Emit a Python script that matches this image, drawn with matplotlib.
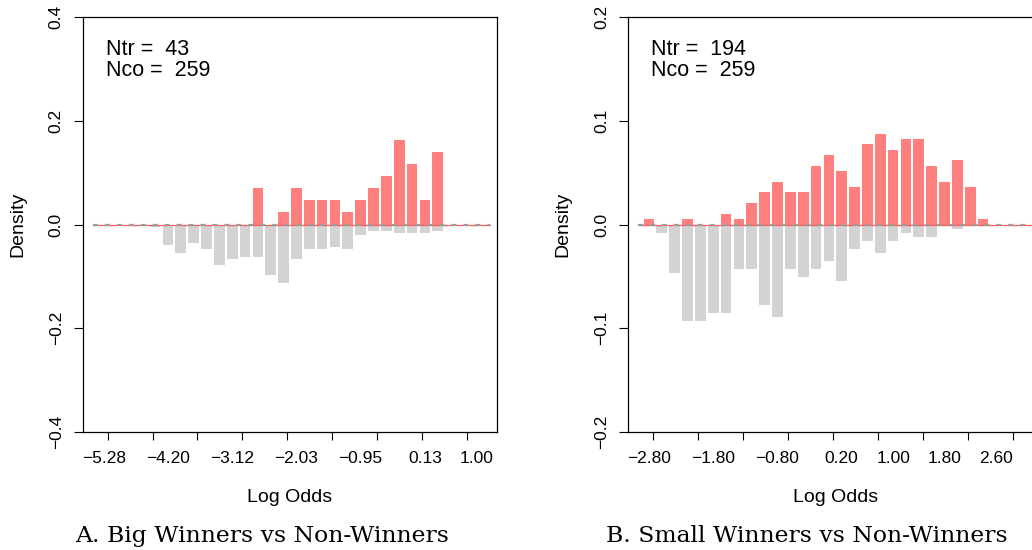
import matplotlib
matplotlib.use("Agg")  # no display

import numpy as np
import matplotlib.pyplot as plt

plt.rcParams["font.family"] = ["Liberation Sans", "DejaVu Sans"]
plt.rcParams["lines.scale_dashes"] = False

# === Data: counts per log-odds bin (30 bins) ===
a_ntr = 43
a_nco = 259
a_treated = [0, 0, 0, 0, 0, 0, 0, 0, 0, 0, 0, 0, 3, 0, 1, 3, 2, 2, 2, 1,
             2, 3, 4, 7, 5, 2, 6, 0, 0, 0]
a_control = [0, 0, 0, 0, 1, 10, 14, 9, 12, 20, 17, 16, 16, 25, 29, 17, 12, 12, 11, 12,
             5, 3, 3, 4, 4, 4, 3, 0, 0, 0]
a_xlabels = ["\u22125.28", "\u22124.20", "\u22123.12", "\u22122.03", "\u22120.95", "0.13", "1.00"]
a_label_bins = [0, 5, 10, 15, 20, 25, 29]
a_yticks = [-0.4, -0.2, 0.0, 0.2, 0.4]
a_ylabels = ["\u22120.4", "\u22120.2", "0.0", "0.2", "0.4"]
a_caption = "A. Big Winners vs Non-Winners"

b_ntr = 194
b_nco = 259
b_treated = [1, 0, 0, 1, 0, 0, 2, 1, 4, 6, 8, 6, 6, 11, 13, 10, 7, 15, 17, 14,
             16, 16, 11, 8, 12, 7, 1, 0, 0, 0]
b_control = [0, 2, 12, 24, 24, 22, 22, 11, 11, 20, 23, 11, 13, 11, 9, 14, 6, 4, 7, 4,
             2, 3, 3, 0, 1, 0, 0, 0, 0, 0]
b_xlabels = ["\u22122.80", "\u22121.80", "\u22120.80", "0.20", "1.00", "1.80", "2.60"]
b_label_bins = [0, 5, 10, 15, 19, 23, 27]
b_yticks = [-0.2, -0.1, 0.0, 0.1, 0.2]
b_ylabels = ["\u22120.2", "\u22120.1", "0.0", "0.1", "0.2"]
b_caption = "B. Small Winners vs Non-Winners"

RED = "#FF7F7F"
GRAY = "#D3D3D3"

W, H = 1032, 550
fig = plt.figure(figsize=(W / 100, H / 100), dpi=100)


def panel(left_px, treated, control, ntr, nco, xlabels, label_bins,
          yticks, ylabels, caption, cap_x):
    ax = fig.add_axes([left_px / W, 1 - 432 / H, 414 / W, 415 / H])
    bins = np.arange(len(treated))
    ax.bar(bins, -np.array(control) / nco, width=1 / 1.2, color=GRAY, linewidth=0, zorder=2)
    ax.bar(bins, np.array(treated) / ntr, width=1 / 1.2, color=RED, linewidth=0, zorder=2)
    # zero line: red under grey dashes
    ax.plot([-0.85, 30.1], [0, 0], color="#FF5A5A", lw=0.9, zorder=3)
    ax.plot([-0.85, 30.1], [0, 0], color="#9C9C9C", lw=1.6, dashes=(3.6, 5.0), zorder=4)

    ax.set_xlim(-1.61, 30.61)
    ax.set_ylim(yticks[0], yticks[-1])

    # tick marks (R places them off the bin centres), labels on bin centres
    ax.set_xticks(0.3 + 3.5 * np.arange(9))
    ax.set_xticklabels([])
    ax.set_xticks(label_bins, minor=True)
    ax.set_xticklabels(xlabels, minor=True)
    ax.tick_params(axis="x", which="major", direction="out", length=6, width=0.8)
    ax.tick_params(axis="x", which="minor", length=0, pad=13.5, labelsize=12.5)

    ax.set_yticks(yticks)
    ax.set_yticklabels(ylabels, rotation=90, va="center")
    ax.tick_params(axis="y", direction="out", length=6.3, width=0.8, pad=7.5, labelsize=12.5)

    for s in ax.spines.values():
        s.set_linewidth(0.9)

    ax.text(0.055, 0.908, "Ntr =  %d" % ntr, transform=ax.transAxes, fontsize=15.5, va="baseline")
    ax.text(0.055, 0.858, "Nco =  %d" % nco, transform=ax.transAxes, fontsize=15.5, va="baseline")

    fig.text((left_px + 207) / W, 1 - 501.7 / H, "Log Odds", ha="center", va="baseline", fontsize=14)
    fig.text((left_px - 65) / W, 1 - 224.5 / H, "Density", ha="center", va="center",
             rotation=90, fontsize=14)
    fig.text(cap_x / W, 1 - 541.7 / H, caption, ha="center", va="baseline",
             fontsize=16.9, family="DejaVu Serif")
    return ax


panel(83, a_treated, a_control, a_ntr, a_nco, a_xlabels, a_label_bins,
      a_yticks, a_ylabels, a_caption, 262)
panel(628.3, b_treated, b_control, b_ntr, b_nco, b_xlabels, b_label_bins,
      b_yticks, b_ylabels, b_caption, 806.5)

plt.savefig("out.png", dpi=100)
